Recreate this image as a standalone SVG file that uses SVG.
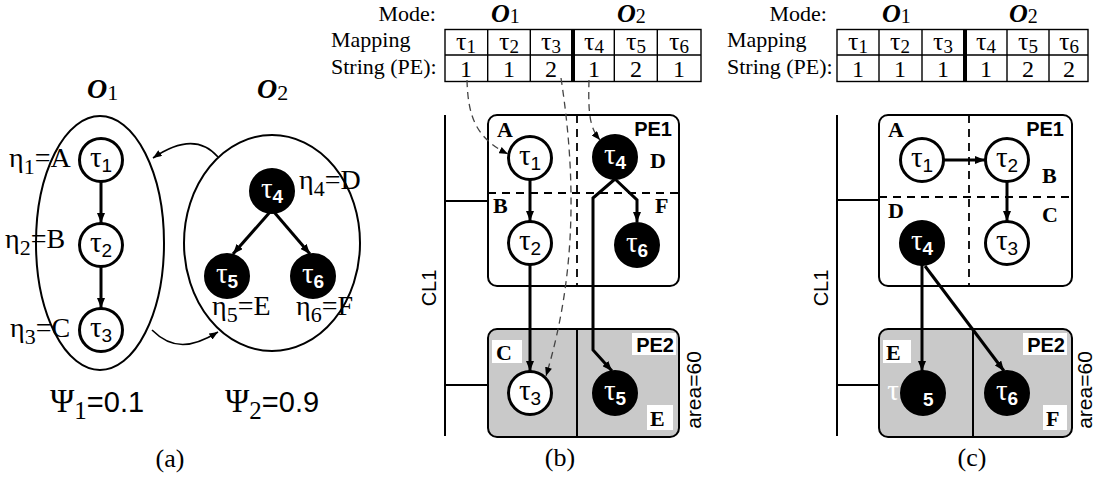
<svg xmlns="http://www.w3.org/2000/svg" width="1097" height="483" viewBox="0 0 1097 483">
<style>
.s{font-family:"Liberation Serif","DejaVu Serif",serif;fill:#000}
.h{font-family:"Liberation Sans",Arial,sans-serif;fill:#000}
.n{fill:#fff;stroke:#000;stroke-width:3}
.d{fill:#000;stroke:#000;stroke-width:3}
.tau{font-family:"Liberation Serif","DejaVu Serif",serif;font-size:29px;text-anchor:middle}
.sub{font-family:"Liberation Sans",Arial,sans-serif;font-size:19px}
.w{fill:#fff}
.wb{fill:#fff;font-weight:bold}
.e{fill:none;stroke:#000;stroke-width:3}
.t{fill:none;stroke:#000;stroke-width:1.6}
.dash{fill:none;stroke:#444;stroke-width:1.3;stroke-dasharray:7 5}
.box{fill:#fff;stroke:#000;stroke-width:2}
.gbox{fill:#c9c9c9;stroke:#000;stroke-width:2}
.grid{fill:none;stroke:#000;stroke-width:1.8;stroke-dasharray:8 6}
.bus{fill:none;stroke:#000;stroke-width:2}
.tbl{fill:none;stroke:#000;stroke-width:1.4}
.lab{font-family:"Liberation Serif","DejaVu Serif",serif;font-weight:bold;font-size:22px}
.pe{font-family:"Liberation Sans",Arial,sans-serif;font-weight:bold;font-size:20px}
.eta{font-family:"Liberation Serif","DejaVu Serif",serif;font-size:28px}
.es{font-size:22px}
.mode{font-family:"Liberation Serif","DejaVu Serif",serif;font-size:22px}
.om{font-family:"Liberation Serif","DejaVu Serif",serif;font-size:28px;font-weight:bold;font-style:italic}
.om2{font-family:"Liberation Serif","DejaVu Serif",serif;font-size:26px;font-weight:bold;font-style:italic}
.oms{font-size:22px;font-weight:normal;font-style:normal}
.oms2{font-size:20px;font-weight:normal;font-style:normal}
.cell{font-family:"Liberation Serif","DejaVu Serif",serif;font-size:24px;text-anchor:middle}
.ct{font-size:26px}
.csub{font-size:19px}
</style>
<defs>
<marker id="ah" viewBox="0 0 10 8" refX="10" refY="4" markerWidth="10" markerHeight="8" markerUnits="userSpaceOnUse" orient="auto"><path d="M0,0 L10,4 L0,8 z" fill="#000"/></marker>
<marker id="as" viewBox="0 0 10 8" refX="10" refY="4" markerWidth="9" markerHeight="7" markerUnits="userSpaceOnUse" orient="auto"><path d="M0,0 L10,4 L0,8 z" fill="#000"/></marker>
</defs>

<!-- ===== (a) ===== -->
<g id="a-modes">
<text class="om" x="87" y="98">O<tspan class="oms" dy="2">1</tspan></text>
<text class="om" x="257" y="98">O<tspan class="oms" dy="2">2</tspan></text>
<ellipse cx="100" cy="243" rx="64" ry="127" fill="none" stroke="#000" stroke-width="2"/>
<ellipse cx="272" cy="243" rx="88" ry="108" fill="none" stroke="#000" stroke-width="2"/>
</g>
<g id="a-t1"><circle class="n" cx="101" cy="160" r="21.5"/><text class="tau" x="101" y="167">τ<tspan class="sub" dy="5">1</tspan></text></g>
<g id="a-t2"><circle class="n" cx="101" cy="245" r="21.5"/><text class="tau" x="101" y="252">τ<tspan class="sub" dy="5">2</tspan></text></g>
<g id="a-t3"><circle class="n" cx="101" cy="330" r="21.5"/><text class="tau" x="101" y="337">τ<tspan class="sub" dy="5">3</tspan></text></g>
<g id="a-t4"><circle class="d" cx="272" cy="191" r="21.5"/><text class="tau w" x="272" y="198">τ<tspan class="sub wb" dy="5">4</tspan></text></g>
<g id="a-t5"><circle class="d" cx="227" cy="276" r="21.5"/><text class="tau w" x="227" y="283">τ<tspan class="sub wb" dy="5">5</tspan></text></g>
<g id="a-t6"><circle class="d" cx="313" cy="276" r="21.5"/><text class="tau w" x="313" y="283">τ<tspan class="sub wb" dy="5">6</tspan></text></g>
<g id="a-labels">
<text class="eta" x="9" y="167">η<tspan class="es" dy="7">1</tspan><tspan dy="-7">=A</tspan></text>
<text class="eta" x="5" y="248">η<tspan class="es" dy="7">2</tspan><tspan dy="-7">=B</tspan></text>
<text class="eta" x="10" y="337">η<tspan class="es" dy="7">3</tspan><tspan dy="-7">=C</tspan></text>
<text class="eta" x="299" y="189">η<tspan class="es" dy="7">4</tspan><tspan dy="-7">=D</tspan></text>
<text class="eta" x="212" y="315">η<tspan class="es" dy="7">5</tspan><tspan dy="-7">=E</tspan></text>
<text class="eta" x="296" y="315">η<tspan class="es" dy="7">6</tspan><tspan dy="-7">=F</tspan></text>
<text class="s" x="50" y="412" font-size="33">Ψ<tspan font-size="25" dy="7">1</tspan><tspan class="h" font-size="29" dy="-7">=0.1</tspan></text>
<text class="s" x="225" y="412" font-size="33">Ψ<tspan font-size="25" dy="7">2</tspan><tspan class="h" font-size="29" dy="-7">=0.9</tspan></text>
<text class="s" x="170" y="467" font-size="26" text-anchor="middle">(a)</text>
</g>

<!-- ===== (b) ===== -->
<g id="b-table">
<text class="mode" x="436" y="21" text-anchor="end">Mode:</text>
<text class="om2" x="491" y="22">O<tspan class="oms2" dy="1">1</tspan></text>
<text class="om2" x="617" y="22">O<tspan class="oms2" dy="1">2</tspan></text>
<text class="mode" x="331" y="47">Mapping</text>
<text class="mode" x="331" y="74">String (PE):</text>
<rect class="tbl" x="445" y="29.5" width="256" height="52"/>
<path class="tbl" d="M445 55H701M487.7 29.5V81.5M530.3 29.5V81.5M614.3 29.5V81.5M657.3 29.5V81.5"/>
<path d="M573 29V82" stroke="#000" stroke-width="4"/>
<text class="cell" x="466" y="50"><tspan class="ct">τ</tspan><tspan class="csub" dy="3">1</tspan></text>
<text class="cell" x="509" y="50"><tspan class="ct">τ</tspan><tspan class="csub" dy="3">2</tspan></text>
<text class="cell" x="551" y="50"><tspan class="ct">τ</tspan><tspan class="csub" dy="3">3</tspan></text>
<text class="cell" x="594" y="50"><tspan class="ct">τ</tspan><tspan class="csub" dy="3">4</tspan></text>
<text class="cell" x="636" y="50"><tspan class="ct">τ</tspan><tspan class="csub" dy="3">5</tspan></text>
<text class="cell" x="679" y="50"><tspan class="ct">τ</tspan><tspan class="csub" dy="3">6</tspan></text>
<text class="cell" x="466" y="77">1</text>
<text class="cell" x="509" y="77">1</text>
<text class="cell" x="551" y="77">2</text>
<text class="cell" x="594" y="77">1</text>
<text class="cell" x="636" y="77">2</text>
<text class="cell" x="679" y="77">1</text>
</g>
<g id="b-cl1">
<path class="bus" d="M445 115V436M445 201H488M445 385H488"/>
<text class="h" font-size="20" transform="rotate(-90 436 288)" x="436" y="288" text-anchor="middle">CL1</text>
</g>
<g id="b-pe1">
<rect class="box" x="488" y="115" width="191" height="171" rx="9"/>
<path class="grid" d="M577 115V286M488 193H679"/>
<text class="lab" x="497" y="137">A</text>
<text class="lab" x="493" y="213">B</text>
<text class="lab" x="650" y="168">D</text>
<text class="lab" x="655" y="213">F</text>
<text class="pe" x="672" y="136" text-anchor="end">PE1</text>
</g>
<g id="b-pe2">
<rect class="gbox" x="488" y="329" width="191" height="108" rx="9"/>
<path d="M577 329V437" stroke="#000" stroke-width="2"/>
<rect x="492" y="340" width="30" height="23" fill="#fff"/>
<text class="lab" x="496" y="360">C</text>
<rect x="632" y="333" width="44" height="22" fill="#fff"/>
<text class="pe" x="674" y="352" text-anchor="end">PE2</text>
<rect x="647" y="405" width="26" height="25" fill="#fff"/>
<text class="lab" x="650" y="426">E</text>
<text class="h" font-size="21" transform="rotate(-90 701 390)" x="701" y="390" text-anchor="middle">area=60</text>
</g>
<g id="b-t1"><circle class="n" cx="530" cy="158" r="21.5"/><text class="tau" x="530" y="165">τ<tspan class="sub" dy="5">1</tspan></text></g>
<g id="b-t2"><circle class="n" cx="530" cy="243" r="21.5"/><text class="tau" x="530" y="250">τ<tspan class="sub" dy="5">2</tspan></text></g>
<g id="b-t3"><circle class="n" cx="530" cy="393" r="21.5"/><text class="tau" x="530" y="400">τ<tspan class="sub" dy="5">3</tspan></text></g>
<g id="b-t4"><circle class="d" cx="615" cy="157" r="21.5"/><text class="tau w" x="615" y="164">τ<tspan class="sub wb" dy="5">4</tspan></text></g>
<g id="b-t5"><circle class="d" cx="615" cy="393" r="21.5"/><text class="tau w" x="615" y="400">τ<tspan class="sub wb" dy="5">5</tspan></text></g>
<g id="b-t6"><circle class="d" cx="637" cy="245" r="21.5"/><text class="tau w" x="637" y="252">τ<tspan class="sub wb" dy="5">6</tspan></text></g>
<text class="s" x="560" y="466" font-size="26" text-anchor="middle">(b)</text>

<!-- ===== (c) ===== -->
<g id="c-table">
<text class="mode" x="827" y="21" text-anchor="end">Mode:</text>
<text class="om2" x="882" y="22">O<tspan class="oms2" dy="1">1</tspan></text>
<text class="om2" x="1009" y="22">O<tspan class="oms2" dy="1">2</tspan></text>
<text class="mode" x="727" y="47">Mapping</text>
<text class="mode" x="727" y="74">String (PE):</text>
<rect class="tbl" x="837" y="29.5" width="251" height="52"/>
<path class="tbl" d="M837 55H1088M879 29.5V81.5M922 29.5V81.5M1007 29.5V81.5M1049 29.5V81.5"/>
<path d="M965 29V82" stroke="#000" stroke-width="4"/>
<text class="cell" x="858" y="50"><tspan class="ct">τ</tspan><tspan class="csub" dy="3">1</tspan></text>
<text class="cell" x="900" y="50"><tspan class="ct">τ</tspan><tspan class="csub" dy="3">2</tspan></text>
<text class="cell" x="943" y="50"><tspan class="ct">τ</tspan><tspan class="csub" dy="3">3</tspan></text>
<text class="cell" x="986" y="50"><tspan class="ct">τ</tspan><tspan class="csub" dy="3">4</tspan></text>
<text class="cell" x="1028" y="50"><tspan class="ct">τ</tspan><tspan class="csub" dy="3">5</tspan></text>
<text class="cell" x="1069" y="50"><tspan class="ct">τ</tspan><tspan class="csub" dy="3">6</tspan></text>
<text class="cell" x="858" y="77">1</text>
<text class="cell" x="900" y="77">1</text>
<text class="cell" x="943" y="77">1</text>
<text class="cell" x="986" y="77">1</text>
<text class="cell" x="1028" y="77">2</text>
<text class="cell" x="1069" y="77">2</text>
</g>
<g id="c-cl1">
<path class="bus" d="M837 115V436M837 200H879M837 385H879"/>
<text class="h" font-size="20" transform="rotate(-90 828 288)" x="828" y="288" text-anchor="middle">CL1</text>
</g>
<g id="c-pe1">
<rect class="box" x="879" y="115" width="193" height="171" rx="9"/>
<path class="grid" d="M969 115V286M879 197H1072"/>
<text class="lab" x="888" y="137">A</text>
<text class="lab" x="1042" y="183">B</text>
<text class="lab" x="888" y="218">D</text>
<text class="lab" x="1042" y="222">C</text>
<text class="pe" x="1064" y="136" text-anchor="end">PE1</text>
</g>
<g id="c-pe2">
<rect class="gbox" x="879" y="329" width="193" height="108" rx="9"/>
<path d="M973 329V437" stroke="#000" stroke-width="2"/>
<rect x="883" y="340" width="28" height="23" fill="#fff"/>
<text class="lab" x="886" y="360">E</text>
<rect x="1023" y="333" width="44" height="22" fill="#fff"/>
<text class="pe" x="1065" y="352" text-anchor="end">PE2</text>
<rect x="1043" y="405" width="24" height="25" fill="#fff"/>
<text class="lab" x="1046" y="426">F</text>
<text class="h" font-size="21" transform="rotate(-90 1092 390)" x="1092" y="390" text-anchor="middle">area=60</text>
</g>
<g id="c-t1"><circle class="n" cx="922" cy="160" r="21.5"/><text class="tau" x="922" y="167">τ<tspan class="sub" dy="5">1</tspan></text></g>
<g id="c-t2"><circle class="n" cx="1007" cy="160" r="21.5"/><text class="tau" x="1007" y="167">τ<tspan class="sub" dy="5">2</tspan></text></g>
<g id="c-t3"><circle class="n" cx="1007" cy="243" r="21.5"/><text class="tau" x="1007" y="250">τ<tspan class="sub" dy="5">3</tspan></text></g>
<g id="c-t4"><circle class="d" cx="922" cy="243" r="21.5"/><text class="tau w" x="922" y="250">τ<tspan class="sub wb" dy="5">4</tspan></text></g>
<g id="c-t5"><circle class="d" cx="923" cy="393" r="21.5"/><text class="tau w" x="893" y="400">τ</text><text class="sub wb" x="923" y="406">5</text></g>
<g id="c-t6"><circle class="d" cx="1007" cy="393" r="21.5"/><text class="tau w" x="1007" y="400">τ<tspan class="sub wb" dy="5">6</tspan></text></g>
<text class="s" x="972" y="466" font-size="26" text-anchor="middle">(c)</text>

<!-- ===== connectors ===== -->
<g id="connectors">
<path class="e" d="M101 182V223" marker-end="url(#ah)"/>
<path class="e" d="M101 267V308" marker-end="url(#ah)"/>
<path class="e" d="M270 212L233 254" marker-end="url(#ah)"/>
<path class="e" d="M274 212L310 254" marker-end="url(#ah)"/>
<path class="t" d="M218 157C205 142 185 136 153 158" marker-end="url(#as)"/>
<path class="t" d="M152 330C172 350 192 348 218 332" marker-end="url(#as)"/>

<path class="e" d="M530 180V221" marker-end="url(#ah)"/>
<path class="e" d="M530 265V371" marker-end="url(#ah)"/>
<path class="e" d="M615 179L637 200V222" marker-end="url(#ah)"/>
<path class="e" d="M615 179L593 198V350L612 371" marker-end="url(#ah)"/>
<path class="dash" d="M467 80C468 115 475 138 508 154" marker-end="url(#as)"/>
<path class="dash" d="M561 78C575 170 578 270 546 376" marker-end="url(#as)"/>
<path class="dash" d="M589 80C588 115 590 128 600 140" marker-end="url(#as)"/>

<path class="e" d="M944 160H985" marker-end="url(#ah)"/>
<path class="e" d="M1007 182V221" marker-end="url(#ah)"/>
<path class="e" d="M922 265V371" marker-end="url(#ah)"/>
<path class="e" d="M925 266L1004 371" marker-end="url(#ah)"/>
</g>
</svg>
